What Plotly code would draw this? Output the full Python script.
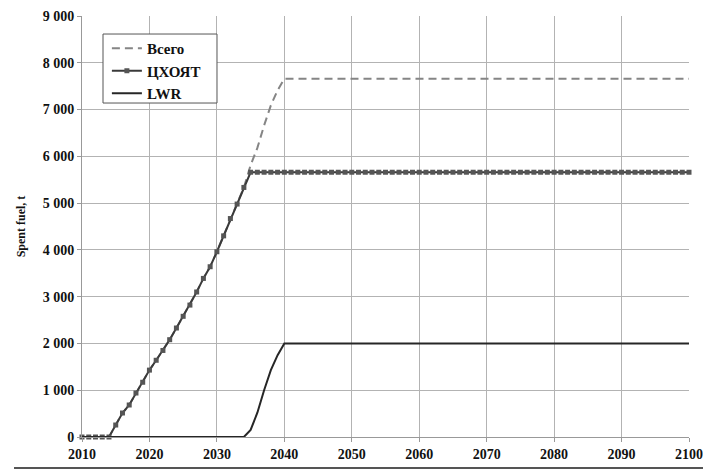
import plotly.graph_objects as go

years = list(range(2010, 2101))

# ЦХОЯТ (central storage) values, yearly
chxoyat_head = [0, 0, 0, 0, 0, 256, 513, 684, 940, 1170, 1430, 1640, 1850, 2080, 2330,
                2580, 2820, 3100, 3390, 3640, 3960, 4300, 4670, 4980, 5335, 5660]
chxoyat_tail = [5660] * (2100 - 2035)
chxoyat = chxoyat_head + chxoyat_tail

# LWR values, yearly
lwr_head = [0] * 25 + [150, 520, 1000, 1430, 1750, 2000]
lwr_tail = [2000] * (2100 - 2040)
lwr = lwr_head + lwr_tail

# Всего (total) values, yearly
total_head = [0, 0, 0, 0, 0, 256, 513, 684, 940, 1170, 1430, 1640, 1850, 2080, 2330,
              2580, 2820, 3100, 3390, 3640, 3960, 4300, 4670, 4980, 5335, 5810,
              6180, 6660, 7090, 7410, 7660]
total_tail = [7660] * (2100 - 2040)
total = total_head + total_tail

x_ticks = list(range(2010, 2101, 10))
y_ticks = list(range(0, 9001, 1000))
y_ticktext = ["0", "1 000", "2 000", "3 000", "4 000", "5 000", "6 000", "7 000", "8 000", "9 000"]

font_family = "Liberation Serif"

fig = go.Figure()
fig.add_trace(go.Scatter(
    x=years, y=total, name="<b>Всего</b>", mode="lines",
    line=dict(color="#858585", width=2, dash="8px,5px"),
    cliponaxis=False,
))
fig.add_trace(go.Scatter(
    x=years, y=chxoyat, name="<b>ЦХОЯТ</b>", mode="lines+markers",
    line=dict(color="#3a3a3a", width=2),
    marker=dict(symbol="square", size=5, color="#555555"),
    cliponaxis=False,
))
fig.add_trace(go.Scatter(
    x=years, y=lwr, name="<b>LWR</b>", mode="lines",
    line=dict(color="#262626", width=2),
    cliponaxis=False,
))

fig.update_layout(
    width=703, height=470,
    margin=dict(l=82, r=14, t=16, b=33),
    paper_bgcolor="white", plot_bgcolor="white",
    font=dict(family=font_family, size=14, color="#111111"),
    showlegend=True,
    legend=dict(
        x=0.041, y=0.962, xanchor="left", yanchor="top",
        borderwidth=0, bgcolor="rgba(0,0,0,0)",
        font=dict(family=font_family, size=15, color="#111111"),
    ),
    xaxis=dict(
        range=[2010, 2100], tickvals=x_ticks,
        ticktext=[f"<b>{v}</b>" for v in x_ticks],
        showgrid=True, gridcolor="#b3b3b3", gridwidth=1,
        showline=True, linecolor="#999999", linewidth=1,
        ticks="outside", ticklen=4, tickcolor="#999999",
        zeroline=False, tickfont=dict(size=14), automargin=False,
    ),
    yaxis=dict(
        range=[0, 9000], tickvals=y_ticks,
        ticktext=[f"<b>{t}</b>" for t in y_ticktext],
        showgrid=True, gridcolor="#b3b3b3", gridwidth=1,
        showline=True, linecolor="#999999", linewidth=1,
        ticks="outside", ticklen=4, tickcolor="#999999",
        zeroline=False, tickfont=dict(size=14), automargin=False,
        title=dict(text="<b>Spent fuel, t</b>", font=dict(size=12), standoff=14),
    ),
)

# legend frame
fig.add_shape(type="rect", xref="paper", yref="paper",
              x0=0.0346, x1=0.2224, y0=0.7933, y1=0.9572,
              line=dict(color="#555555", width=1), fillcolor="white", layer="above")

# separator line under the chart
fig.add_shape(type="line", xref="paper", yref="paper",
              x0=-0.112, x1=1.03, y0=-0.0736, y1=-0.0736,
              line=dict(color="#555555", width=2))

fig.write_html("out.html")
